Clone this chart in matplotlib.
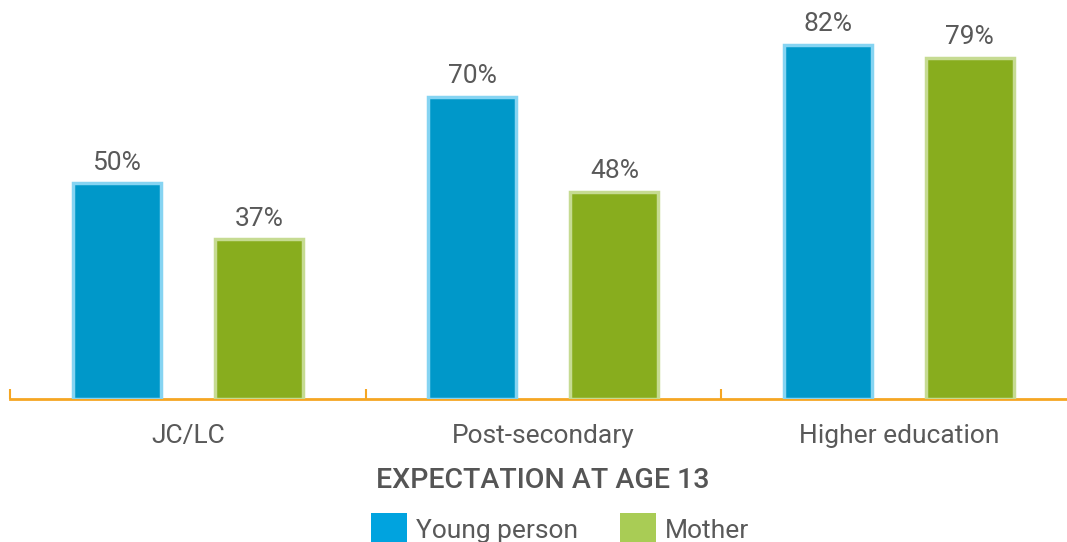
import numpy as np
import matplotlib
matplotlib.use("Agg")
import matplotlib.pyplot as plt
from matplotlib.patches import Patch

plt.rcParams['font.family'] = ['Roboto', 'DejaVu Sans']

# data
categories = ["JC/LC", "Post-secondary", "Higher education"]
young_person = [50, 70, 82]
mother = [37, 48, 79]
series_names = ["Young person", "Mother"]

W, H = 1067, 542
fig = plt.figure(figsize=(W / 100, H / 100), dpi=100)
ax = fig.add_axes([10 / W, 143 / H, 1066.5 / W, 388.8 / H])

x = np.arange(len(categories))
off = 0.2
bw = 0.2475

b1 = ax.bar(x - off, young_person, bw, color="#0098C9", edgecolor="#86D4F2", linewidth=2.5, zorder=3)
b2 = ax.bar(x + off, mother, bw, color="#88AD1E", edgecolor="#C6DB92", linewidth=2.5, zorder=3)

for bars, vals in [(b1, young_person), (b2, mother)]:
    for r, v in zip(bars, vals):
        ax.annotate(f"{v}%", (r.get_x() + r.get_width() / 2, v), xytext=(0, 6),
                    textcoords="offset points", ha="center", va="bottom",
                    fontsize=19, color="#595959")

ax.set_xlim(-0.5, 2.5)
ax.set_ylim(0, 90)
for s in ["top", "right", "left"]:
    ax.spines[s].set_visible(False)
ax.spines["bottom"].set_color("#F5A623")
ax.spines["bottom"].set_linewidth(2)
ax.set_yticks([])
ax.set_xticks(x)
ax.set_xticklabels(categories, fontsize=19, color="#595959")
ax.tick_params(axis="x", which="major", length=0, pad=18)
ax.set_xticks([-0.5, 0.5, 1.5, 2.5], minor=True)
ax.tick_params(axis="x", which="minor", direction="in", length=7, width=1.5, color="#F5A623")

fig.text(543 / W, 1 - 480 / H, "EXPECTATION AT AGE 13", ha="center", va="center",
         fontsize=20.5, fontweight="medium", color="#555555")

handles = [Patch(facecolor="#00A3DF"), Patch(facecolor="#A9CC55")]
fig.legend(handles, series_names, loc="center", bbox_to_anchor=(560 / W, 1 - 529 / H),
           ncol=2, frameon=False, fontsize=19, handlelength=1.36, handleheight=1.45,
           handletextpad=0.34, columnspacing=1.6, labelcolor="#595959",
           borderpad=0, borderaxespad=0)

fig.savefig("out.png", dpi=100)
